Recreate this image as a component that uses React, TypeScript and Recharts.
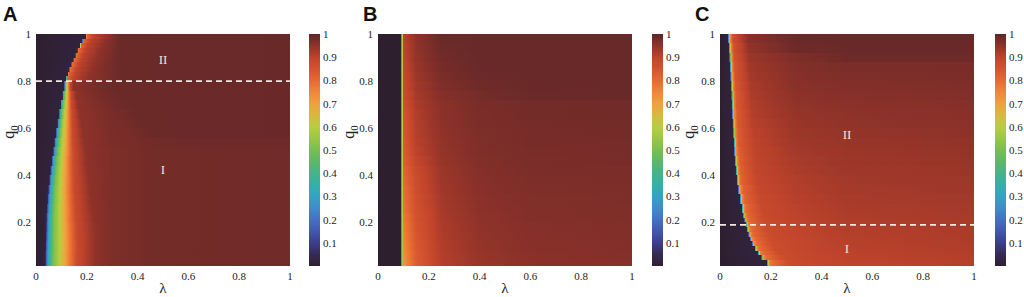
import React from 'react';
import { ComposedChart, XAxis, YAxis, ReferenceArea, ReferenceLine, ReferenceDot, Label } from 'recharts';

const SERIF = '"Liberation Serif", "Times New Roman", serif';
const SANS = '"Liberation Sans", Arial, sans-serif';

// axis ticks
const lambdaTicks = [0, 0.2, 0.4, 0.6, 0.8, 1];
const q0Ticks = [0.2, 0.4, 0.6, 0.8, 1];
const barTicks = [0.1, 0.2, 0.3, 0.4, 0.5, 0.6, 0.7, 0.8, 0.9, 1];

// ---- panel A ----
const qBandsA = [0.015, 0.04, 0.08, 0.12, 0.16, 0.2, 0.24, 0.28, 0.32, 0.36, 0.4, 0.44, 0.48, 0.52, 0.56, 0.6, 0.64, 0.68, 0.72, 0.76, 0.8, 0.82, 0.84, 0.86, 0.88, 0.9, 0.92, 0.94, 0.96, 0.98, 1];
const rampA = [0.02, 0.15, 0.3, 0.5, 0.58, 0.66, 0.76, 0.88, 0.95];
const lamA = [
  [0.036, 0.040, 0.048, 0.068, 0.088, 0.107, 0.129, 0.162, 0.236],
  [0.036, 0.040, 0.048, 0.068, 0.088, 0.107, 0.129, 0.162, 0.236],
  [0.037, 0.041, 0.049, 0.069, 0.089, 0.108, 0.130, 0.163, 0.237],
  [0.038, 0.042, 0.050, 0.069, 0.089, 0.108, 0.129, 0.161, 0.234],
  [0.039, 0.043, 0.051, 0.070, 0.089, 0.107, 0.128, 0.160, 0.231],
  [0.040, 0.044, 0.051, 0.070, 0.088, 0.106, 0.126, 0.157, 0.226],
  [0.042, 0.046, 0.053, 0.071, 0.089, 0.106, 0.126, 0.155, 0.222],
  [0.045, 0.048, 0.055, 0.073, 0.090, 0.106, 0.125, 0.153, 0.217],
  [0.048, 0.051, 0.058, 0.074, 0.091, 0.106, 0.124, 0.151, 0.212],
  [0.052, 0.055, 0.061, 0.077, 0.093, 0.107, 0.125, 0.150, 0.208],
  [0.056, 0.059, 0.065, 0.080, 0.094, 0.109, 0.125, 0.149, 0.204],
  [0.061, 0.064, 0.069, 0.083, 0.097, 0.110, 0.125, 0.148, 0.199],
  [0.067, 0.070, 0.075, 0.087, 0.100, 0.112, 0.127, 0.148, 0.195],
  [0.072, 0.074, 0.079, 0.091, 0.103, 0.114, 0.127, 0.146, 0.190],
  [0.078, 0.080, 0.084, 0.095, 0.106, 0.116, 0.127, 0.145, 0.184],
  [0.084, 0.086, 0.090, 0.099, 0.108, 0.117, 0.128, 0.143, 0.178],
  [0.090, 0.092, 0.095, 0.103, 0.111, 0.119, 0.128, 0.142, 0.172],
  [0.097, 0.098, 0.101, 0.108, 0.115, 0.121, 0.129, 0.140, 0.165],
  [0.104, 0.105, 0.107, 0.113, 0.118, 0.123, 0.129, 0.138, 0.158],
  [0.111, 0.112, 0.113, 0.117, 0.120, 0.124, 0.128, 0.134, 0.147],
];
const sharpRampA = [0.02, 0.35, 0.8, 0.9, 0.95];
const lamSharpA = [
  [0.118, 0.120, 0.122, 0.148, 0.208],
  [0.124, 0.126, 0.128, 0.154, 0.214],
  [0.131, 0.133, 0.135, 0.161, 0.221],
  [0.139, 0.141, 0.143, 0.169, 0.229],
  [0.147, 0.149, 0.151, 0.177, 0.237],
  [0.155, 0.157, 0.159, 0.185, 0.245],
  [0.163, 0.165, 0.167, 0.193, 0.253],
  [0.172, 0.174, 0.176, 0.202, 0.262],
  [0.182, 0.184, 0.186, 0.212, 0.272],
  [0.195, 0.197, 0.199, 0.225, 0.285],
];
const farLowA = [[0.3, 0.968], [0.45, 0.976], [1, 0.979]];
const farTopA = [[0.33, 0.985], [1, 0.987]];
const farA: number[][][] = [
  ...Array(13).fill(farLowA),
  [[0.3, 0.97], [0.44, 0.976], [0.5, 0.981], [1, 0.982]],
  [[0.3, 0.97], [0.4, 0.976], [0.45, 0.985], [1, 0.986]],
  [[0.3, 0.972], [0.37, 0.977], [0.42, 0.985], [1, 0.986]],
  [[0.3, 0.973], [0.34, 0.977], [0.39, 0.985], [1, 0.986]],
  [[0.28, 0.974], [0.31, 0.978], [0.36, 0.985], [1, 0.986]],
  [[0.26, 0.975], [0.29, 0.978], [0.33, 0.985], [1, 0.986]],
  [[0.24, 0.975], [0.27, 0.979], [0.31, 0.985], [1, 0.986]],
  ...Array(10).fill(farTopA),
];

// ---- panel B ----
const qBandsB = [0.015, 0.04, 0.08, 0.12, 0.16, 0.2, 0.24, 0.28, 0.32, 0.36, 0.4, 0.44, 0.48, 0.52, 0.56, 0.6, 0.64, 0.68, 0.72, 0.76, 0.8, 0.84, 0.88, 0.92, 0.96, 1];
const edgeB = [[0, 0], [0.089, 0], [0.092, 0.25], [0.095, 0.5]];
const lamB = [0.1, 0.15, 0.25, 0.4, 0.6, 1];
const valB = [
  [0.72, 0.83, 0.91, 0.94, 0.955, 0.96],
  [0.73, 0.835, 0.912, 0.942, 0.956, 0.961],
  [0.74, 0.84, 0.915, 0.945, 0.958, 0.962],
  [0.75, 0.845, 0.918, 0.947, 0.959, 0.963],
  [0.76, 0.85, 0.92, 0.949, 0.96, 0.964],
  [0.77, 0.855, 0.923, 0.951, 0.962, 0.965],
  [0.78, 0.86, 0.926, 0.953, 0.963, 0.966],
  [0.785, 0.865, 0.929, 0.955, 0.964, 0.967],
  [0.79, 0.87, 0.932, 0.957, 0.966, 0.968],
  [0.80, 0.875, 0.935, 0.959, 0.967, 0.969],
  [0.81, 0.88, 0.938, 0.961, 0.969, 0.971],
  [0.82, 0.89, 0.942, 0.963, 0.971, 0.973],
  [0.83, 0.90, 0.945, 0.965, 0.972, 0.974],
  [0.835, 0.905, 0.947, 0.966, 0.973, 0.975],
  [0.84, 0.91, 0.949, 0.968, 0.974, 0.976],
  [0.845, 0.912, 0.951, 0.969, 0.975, 0.977],
  [0.85, 0.915, 0.953, 0.97, 0.976, 0.978],
  [0.86, 0.92, 0.955, 0.972, 0.977, 0.978],
  [0.87, 0.925, 0.96, 0.975, 0.985, 0.986],
  [0.875, 0.93, 0.965, 0.98, 0.986, 0.987],
  [0.88, 0.935, 0.97, 0.984, 0.987, 0.987],
  [0.885, 0.94, 0.975, 0.986, 0.987, 0.987],
  [0.89, 0.945, 0.978, 0.987, 0.987, 0.987],
  [0.895, 0.948, 0.982, 0.987, 0.987, 0.987],
  [0.90, 0.95, 0.985, 0.987, 0.987, 0.987],
];

// ---- panel C ----
const qBandsC = [0.015, 0.04, 0.06, 0.08, 0.1, 0.12, 0.14, 0.16, 0.18, 0.2, 0.22, 0.24, 0.28, 0.32, 0.36, 0.4, 0.44, 0.48, 0.52, 0.56, 0.6, 0.64, 0.68, 0.72, 0.76, 0.8, 0.84, 0.88, 0.92, 0.96, 1];
const edgeC = [0.184, 0.162, 0.148, 0.136, 0.126, 0.118, 0.111, 0.105, 0.1, 0.095, 0.09, 0.085, 0.078, 0.071, 0.065, 0.061, 0.058, 0.055, 0.053, 0.051, 0.049, 0.047, 0.045, 0.044, 0.042, 0.04, 0.038, 0.036, 0.034, 0.031];
const nearOffC = [0, 0.003, 0.006, 0.01];
const rampC = [0.02, 0.3, 0.55, 0.75];
const valC = [
  [0.79, 0.868, 0.88, 0.898, 0.91],
  [0.795, 0.869, 0.883, 0.901, 0.913],
  [0.795, 0.870, 0.885, 0.903, 0.915],
  [0.80, 0.871, 0.887, 0.905, 0.917],
  [0.80, 0.872, 0.889, 0.907, 0.919],
  [0.80, 0.873, 0.891, 0.909, 0.92],
  [0.805, 0.874, 0.893, 0.911, 0.921],
  [0.805, 0.875, 0.895, 0.913, 0.922],
  [0.805, 0.876, 0.897, 0.915, 0.923],
  [0.81, 0.877, 0.899, 0.917, 0.924],
  [0.81, 0.878, 0.901, 0.919, 0.925],
  [0.81, 0.880, 0.904, 0.921, 0.927],
  [0.815, 0.883, 0.908, 0.924, 0.93],
  [0.815, 0.886, 0.912, 0.927, 0.933],
  [0.82, 0.889, 0.916, 0.93, 0.936],
  [0.82, 0.892, 0.92, 0.933, 0.939],
  [0.825, 0.895, 0.924, 0.936, 0.942],
  [0.825, 0.898, 0.928, 0.939, 0.945],
  [0.83, 0.901, 0.932, 0.942, 0.948],
  [0.83, 0.904, 0.936, 0.945, 0.951],
  [0.835, 0.908, 0.94, 0.948, 0.954],
  [0.835, 0.912, 0.944, 0.951, 0.957],
  [0.84, 0.916, 0.948, 0.955, 0.96],
  [0.84, 0.92, 0.952, 0.959, 0.963],
  [0.845, 0.924, 0.956, 0.962, 0.966],
  [0.85, 0.928, 0.96, 0.966, 0.969],
  [0.85, 0.933, 0.962, 0.97, 0.972],
  [0.855, 0.938, 0.966, 0.982, 0.983],
  [0.86, 0.947, 0.982, 0.986, 0.986],
  [0.865, 0.956, 0.986, 0.987, 0.987],
];

// colour map (value -> colour), close to the figure's colour bar
const cmap: [number, string][] = [
  [0.0, '#2e1f2f'], [0.05, '#372a55'], [0.1, '#3b3f8c'], [0.15, '#4157b0'],
  [0.2, '#4570c4'], [0.25, '#3f8ccc'], [0.3, '#33a3c6'], [0.35, '#33b0a8'],
  [0.4, '#45b48a'], [0.45, '#5cb86a'], [0.5, '#78bf50'], [0.55, '#9ac744'],
  [0.6, '#b8cd40'], [0.65, '#d8b83e'], [0.7, '#f0a03e'], [0.75, '#f08538'],
  [0.8, '#e56a32'], [0.85, '#d4542e'], [0.9, '#bf432b'], [0.95, '#8f3229'],
  [1.0, '#5c2628'],
];

const rgb = (h: string) => [1, 3, 5].map((i) => parseInt(h.slice(i, i + 2), 16));

function colorAt(v: number) {
  const x = Math.max(0, Math.min(1, v));
  for (let i = 0; i < cmap.length - 1; i++) {
    const [v0, c0] = cmap[i];
    const [v1, c1] = cmap[i + 1];
    if (x <= v1) {
      const t = (x - v0) / (v1 - v0);
      const a = rgb(c0);
      const b = rgb(c1);
      return `rgb(${a.map((k, j) => Math.round(k + (b[j] - k) * t)).join(',')})`;
    }
  }
  return cmap[cmap.length - 1][1];
}

// gradient stops; colour is blended through the colour map between data stops
function gradStops(stops: number[][]) {
  const out: { o: number; c: string }[] = [];
  stops.forEach(([l, v], i) => {
    out.push({ o: l, c: colorAt(v) });
    if (i < stops.length - 1) {
      const [l2, v2] = stops[i + 1];
      const n = Math.ceil(Math.abs(v2 - v) / 0.025);
      for (let k = 1; k < n; k++) {
        const t = k / n;
        out.push({ o: l + (l2 - l) * t, c: colorAt(v + (v2 - v) * t) });
      }
    }
  });
  return out;
}

type Row = { lo: number; hi: number; stops: number[][] };

const rowsA: Row[] = qBandsA.slice(0, -1).map((lo, i) => {
  const near = i < lamA.length
    ? lamA[i].map((l, j) => [l, rampA[j]])
    : lamSharpA[i - lamA.length].map((l, j) => [l, sharpRampA[j]]);
  return { lo, hi: qBandsA[i + 1], stops: [[0, 0], ...near, ...farA[i]] };
});

const rowsB: Row[] = qBandsB.slice(0, -1).map((lo, i) => ({
  lo,
  hi: qBandsB[i + 1],
  stops: [...edgeB, ...lamB.map((l, j) => [l, valB[i][j]])],
}));

const rowsC: Row[] = qBandsC.slice(0, -1).map((lo, i) => {
  const e = edgeC[i];
  const [a, b, v3, v5, v10] = valC[i];
  return {
    lo,
    hi: qBandsC[i + 1],
    stops: [
      [0, 0],
      ...nearOffC.map((o, j) => [e + o, rampC[j]]),
      [e + 0.02, a],
      [e + 0.08, b],
      [0.3, v3],
      [0.5, v5],
      [1, v10],
    ],
  };
});

const tickStyle = { fontSize: 11, fill: '#222', fontFamily: SERIF };

type PanelProps = {
  id: string;
  title: string;
  left: number;
  titleLeft: number;
  yAxisWidth: number;
  rows: Row[];
  dashY?: number;
  regions?: { x: number; y: number; text: string }[];
};

const Panel: React.FC<PanelProps> = ({ id, title, left, titleLeft, yAxisWidth, rows, dashY, regions = [] }) => {
  const width = yAxisWidth + 254 + 4;
  return (
    <>
      <div style={{ position: 'absolute', left: titleLeft, top: 4, fontFamily: SANS, fontWeight: 700, fontSize: 20, lineHeight: '20px', color: '#111' }}>
        {title}
      </div>
      <div style={{ position: 'absolute', left, top: 0 }}>
        <ComposedChart width={width} height={297} margin={{ top: 34, right: 4, bottom: 0, left: 0 }} data={[]}>
          <defs>
            {rows.map((r, i) => (
              <linearGradient key={i} id={`${id}-r${i}`} x1="0" y1="0" x2="1" y2="0">
                {gradStops(r.stops).map((s, k) => (
                  <stop key={k} offset={s.o} stopColor={s.c} />
                ))}
              </linearGradient>
            ))}
          </defs>
          <XAxis type="number" dataKey="x" domain={[0, 1]} ticks={lambdaTicks} interval={0} height={31}
            tickLine={false} axisLine={false} tickSize={0} tickMargin={6} tick={tickStyle} allowDataOverflow>
            <Label value="λ" position="insideBottom" offset={4} fontSize={15} fill="#222" fontFamily={SERIF} />
          </XAxis>
          <YAxis type="number" dataKey="y" domain={[0.015, 1]} ticks={q0Ticks} interval={0} width={yAxisWidth}
            tickLine={false} axisLine={false} tickSize={0} tickMargin={5} tick={tickStyle} allowDataOverflow>
            <Label
              content={(p: any) => {
                const vb = p.viewBox || { x: 0, y: 34, height: 232 };
                const x = vb.x + 14;
                const y = vb.y + vb.height / 2 - 18;
                return (
                  <text x={x} y={y} transform={`rotate(-90, ${x}, ${y})`} textAnchor="middle" fontFamily={SERIF} fontSize={16} fill="#222">
                    q<tspan dy={4} fontSize={11}>0</tspan>
                  </text>
                );
              }}
            />
          </YAxis>
          {rows.map((r, i) => (
            <ReferenceArea key={i} x1={0} x2={1} y1={r.lo} y2={r.hi} fill={`url(#${id}-r${i})`} fillOpacity={1}
              stroke="none" shapeRendering="crispEdges" ifOverflow="visible" />
          ))}
          {dashY !== undefined && (
            <ReferenceLine y={dashY} stroke="#f1e9e2" strokeWidth={1.8} strokeDasharray="6 4" />
          )}
          {regions.map((g, i) => (
            <ReferenceDot key={i} x={g.x} y={g.y} r={0} fill="none" stroke="none"
              label={{ value: g.text, position: 'center', fill: '#f3e4d6', fontSize: 13, fontFamily: SERIF }} />
          ))}
        </ComposedChart>
      </div>
    </>
  );
};

const ColorBar: React.FC<{ id: string; left: number; width: number }> = ({ id, left, width }) => (
  <div style={{ position: 'absolute', left, top: 0 }}>
    <ComposedChart width={width} height={297} margin={{ top: 34, right: 0, bottom: 31, left: 0 }} data={[]}>
      <defs>
        <linearGradient id={id} x1="0" y1="1" x2="0" y2="0">
          {gradStops([[0, 0], [1, 1]]).map((s, k) => (
            <stop key={k} offset={s.o} stopColor={s.c} />
          ))}
        </linearGradient>
      </defs>
      <XAxis type="number" dataKey="x" domain={[0, 1]} hide allowDataOverflow />
      <YAxis type="number" dataKey="y" orientation="right" domain={[0, 1]} ticks={barTicks} interval={0} width={width - 11}
        tickLine={false} axisLine={false} tickSize={0} tickMargin={3} tick={tickStyle} allowDataOverflow />
      <ReferenceArea x1={0} x2={1} y1={0} y2={1} fill={`url(#${id})`} fillOpacity={1} stroke="none" ifOverflow="visible" />
    </ComposedChart>
  </div>
);

export default function App() {
  return (
    <div style={{ position: 'absolute', left: 0, top: 0, width: 1024, height: 297, background: '#fff', overflow: 'hidden', fontFamily: SERIF }}>
      <Panel id="pa" title="A" left={0} titleLeft={3} yAxisWidth={36} rows={rowsA} dashY={0.8}
        regions={[{ x: 0.5, y: 0.894, text: 'II' }, { x: 0.5, y: 0.427, text: 'I' }]} />
      <ColorBar id="cba" left={309} width={40} />
      <Panel id="pb" title="B" left={340} titleLeft={363} yAxisWidth={38} rows={rowsB} />
      <ColorBar id="cbb" left={652} width={40} />
      <Panel id="pc" title="C" left={680} titleLeft={695} yAxisWidth={40} rows={rowsC} dashY={0.19}
        regions={[{ x: 0.5, y: 0.574, text: 'II' }, { x: 0.5, y: 0.09, text: 'I' }]} />
      <ColorBar id="cbc" left={995} width={29} />
    </div>
  );
}
